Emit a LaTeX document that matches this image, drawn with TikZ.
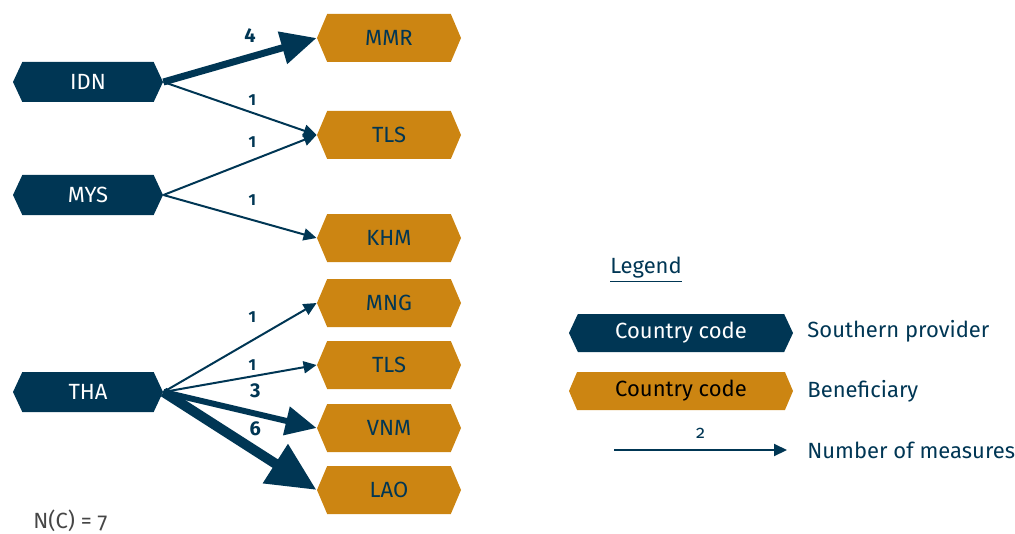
\documentclass[tikz,border=0pt]{standalone}
\usepackage{fontspec}
\setmainfont{Fira Sans}[Numbers=OldStyle]
\usepackage{tikz}
\usetikzlibrary{arrows.meta,shapes.symbols}
\definecolor{Color1}{RGB}{0,54,84}
\definecolor{Color2}{RGB}{204,133,18}
\definecolor{Color3}{RGB}{70,70,70}
\tikzset{
  provider/.style={signal,signal to=west and east,signal pointer angle=130,fill=Color1,text=white,
    minimum width=75pt,minimum height=20pt,inner sep=0pt,font=\fontsize{11}{11}\selectfont},
  beneficiary/.style={signal,signal to=west and east,signal pointer angle=134,fill=Color2,text=Color1,
    minimum width=72pt,minimum height=24pt,inner sep=0pt,font=\fontsize{11}{11}\selectfont},
  measure/.style={draw=Color1,line width=#1,-{Triangle[length=2pt 4.5,width=2pt 4]}},
  num/.style={text=Color1,inner sep=0pt,font=\bfseries\fontsize{#1}{#1}\selectfont\addfontfeatures{Numbers=Lining}},
  legtext/.style={text=Color1,anchor=west,inner sep=0pt,font=\fontsize{11}{11}\selectfont}
}
\begin{document}
\begin{tikzpicture}[x=0.5pt,y=-0.5pt]
		% border
		\useasboundingbox (0,0) rectangle (1015,534);

		% southern providers
		\node[provider] (idn) at (88,82) {IDN};
		\node[provider] (mys) at (88,195) {MYS};
		\node[provider] (tha) at (88,392) {THA};

		% beneficiaries
		\node[beneficiary] (mmr) at (389,38) {MMR};
		\node[beneficiary] (tlsa) at (389,135) {TLS};
		\node[beneficiary] (khm) at (389,238) {KHM};
		\node[beneficiary] (mng) at (389,303) {MNG};
		\node[beneficiary] (tlsb) at (389,365) {TLS};
		\node[beneficiary] (vnm) at (389,428) {VNM};
		\node[beneficiary] (lao) at (389,490) {LAO};

		% measures
		\draw[measure=3.5pt] (idn.east) -- node[num=10,pos=0.565,yshift=11pt] {4} (mmr.west);
		\draw[measure=1pt] (idn.east) -- node[num=8,pos=0.58,yshift=6.5pt] {1} (tlsa.west);
		\draw[measure=1pt] (mys.east) -- node[num=8,pos=0.58,yshift=9pt] {1} (tlsa.west);
		\draw[measure=1pt] (mys.east) -- node[num=8,pos=0.58,yshift=10pt] {1} (khm.west);
		\draw[measure=1pt] (tha.east) -- node[num=8,pos=0.58,yshift=11.5pt] {1} (mng.west);
		\draw[measure=1pt] (tha.east) -- node[num=8,pos=0.58,yshift=5.5pt] {1} (tlsb.west);
		\draw[measure=3pt] (tha.east) -- node[num=10,pos=0.6,yshift=11.5pt] {3} (vnm.west);
		\draw[measure=5pt] (tha.east) -- node[num=10,pos=0.6,yshift=11pt] {6} (lao.west);

		% legend
		\node[text=Color1,inner sep=0pt,font=\fontsize{11}{11}\selectfont] (legend) at (646,270) {\underline{Legend}};
		\node[provider,minimum width=112pt,minimum height=19pt] (legprov) at (681,333) {Country code};
		\node[beneficiary,text=black,minimum width=112pt,minimum height=19pt] (legben) at (681,391) {Country code};
		\node[legtext] (provtext) at (807,331) {Southern provider};
		\node[legtext] (bentext) at (807,391) {Beneficiary};
		\coordinate (arrowa) at (614,450);
		\coordinate (arrowb) at (787,450);
		\draw[measure=1pt] (arrowa) -- node[text=Color1,inner sep=0pt,yshift=8.5pt,font=\fontsize{9}{9}\selectfont] {2} (arrowb);
		\node[legtext] (meastext) at (807,450) {Number of measures};

		% count
		\node[anchor=west,inner sep=0pt,text=Color3,font=\fontsize{11}{11}\selectfont] (count) at (33,521) {N(C) = 7};
	\end{tikzpicture}
\end{document}
